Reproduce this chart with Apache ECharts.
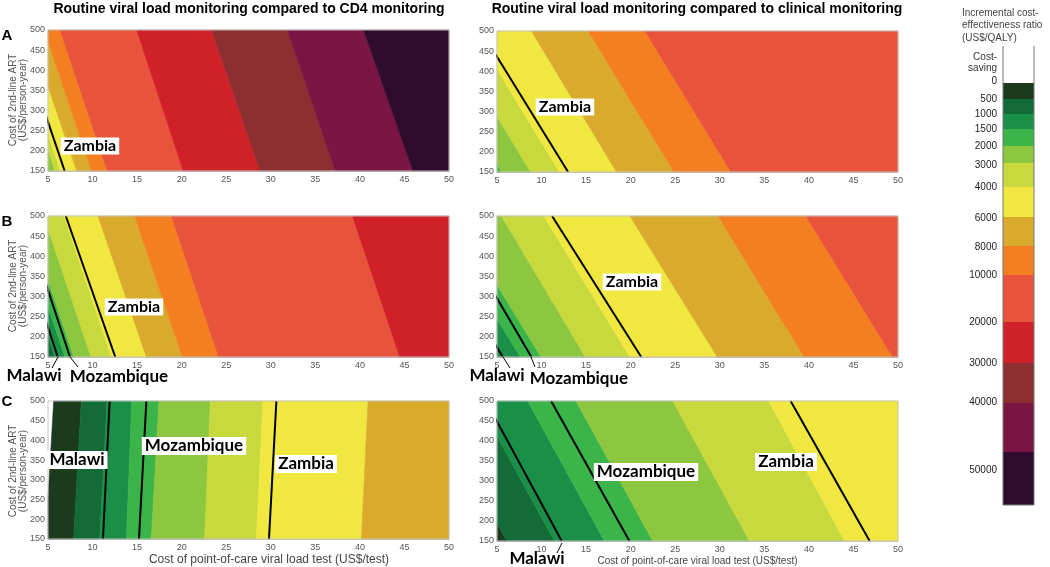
<!DOCTYPE html>
<html><head><meta charset="utf-8">
<script src="https://cdn.jsdelivr.net/npm/echarts@6/dist/echarts.min.js"></script>
<style>html,body{margin:0;padding:0;background:#fff}#c{width:1050px;height:567px}</style>
</head><body><div id="c"></div>
<script>
// ---------- data ----------
const xTicks = [5, 10, 15, 20, 25, 30, 35, 40, 45, 50];
const yTicks = [150, 200, 250, 300, 350, 400, 450, 500];
const columnTitles = ['Routine viral load monitoring compared to CD4 monitoring',
                      'Routine viral load monitoring compared to clinical monitoring'];
const rowLetters = ['A', 'B', 'C'];
const xAxisTitle = 'Cost of point-of-care viral load test (US$/test)';
const yAxisTitle = 'Cost of 2nd-line ART\n(US$/person-year)';
const legendTitle = 'Incremental cost-\neffectiveness ratio\n(US$/QALY)';
const legendBreaks = ['0','500','1000','1500','2000','3000','4000','6000','8000','10000','20000','30000','40000','50000'];
// ICER band (lower bound, -1 = cost-saving) -> colour
const icerBands = [-1, 0, 500, 1000, 1500, 2000, 3000, 4000, 6000, 8000, 10000, 20000, 30000, 40000, 50000];
const icerColors = ['#ffffff','#1c3a1e','#136b37','#1a8f47','#3bb54a','#8dc63f','#c8d93e','#f0e840','#d9aa2b','#f47f20','#e8533b','#d02129','#8d2e30','#7b1543','#2f0c2e'];

// Band boundaries: x (test cost) where boundary meets y=500 and y=150 (extrapolated)
// A: vs CD4
const aCd4Bands   = [2000, 3000, 4000, 6000, 8000, 10000, 20000, 30000, 40000, 50000];
const aCd4Edge500 = [0.45, 1.05, 2.87, 4.55, 6.35, 14.95, 23.36, 31.86, 40.4];
const aCd4Edge150 = [5.8, 6.4, 8.22, 9.9, 11.66, 20.18, 28.78, 37.21, 45.95];
const aCd4Lines   = [['Zambia', 1.5, 6.87]];
// A: vs clinical
const aClinBands   = [1500, 2000, 3000, 4000, 6000, 8000, 10000];
const aClinEdge500 = [-4.1, -0.82, 2.4, 8.86, 15.23, 21.6];
const aClinEdge150 = [5.5, 8.78, 12.0, 18.41, 24.86, 31.26];
const aClinLines   = [['Zambia', 3.22, 12.98]];
// B: vs CD4
const bCd4Bands   = [500, 1000, 1500, 2000, 3000, 4000, 6000, 8000, 10000, 20000];
const bCd4Edge500 = [0.46, 1.6, 2.59, 4.53, 6.8, 10.61, 14.73, 18.84, 39.16];
const bCd4Edge150 = [5.76, 6.9, 7.89, 9.83, 12.1, 16.04, 20.08, 24.15, 44.47];
const bCd4Lines   = [['Malawi', 0.9, 6.1], ['Mozambique', 2.27, 7.47], ['Zambia', 7.0, 12.55]];
// B: vs clinical
const bClinBands   = [1000, 1500, 2000, 3000, 4000, 6000, 8000, 10000];
const bClinEdge500 = [-2.08, 0.25, 5.5, 10.25, 19.91, 29.8, 39.66];
const bClinEdge150 = [7.62, 9.95, 14.93, 19.91, 29.73, 39.47, 49.4];
const bClinLines   = [['Malawi', -3.66, 5.64], ['Mozambique', -0.4, 8.86], ['Zambia', 11.18, 21.19]];
// C: vs CD4
const cCd4Bands   = [-1, 0, 500, 1000, 1500, 2000, 3000, 4000, 6000];
const cCd4Edge500 = [5.64, 8.74, 11.62, 14.4, 17.46, 23.22, 29.13, 40.92];
const cCd4Edge150 = [4.73, 7.88, 10.8, 13.8, 16.6, 22.58, 28.38, 40.17];
const cCd4Lines   = [['Malawi', 11.92, 11.17], ['Mozambique', 16.04, 15.21], ['Zambia', 30.63, 29.8]];
// C: vs clinical
const cClinBands   = [0, 500, 1000, 1500, 2000, 3000, 4000];
const cClinEdge500 = [-2.5, 2.84, 8.44, 13.87, 24.73, 35.48];
const cClinEdge150 = [6.1, 11.44, 17.05, 22.48, 33.34, 44.01];
const cClinLines   = [['Malawi', 3.76, 12.26], ['Mozambique', 11.07, 19.86], ['Zambia', 37.95, 46.82]];

// ---------- layout ----------
const X0 = xTicks[0], X1 = xTicks[xTicks.length - 1];
const Y0 = yTicks[0], Y1 = yTicks[yTicks.length - 1];
const panels = [
  {bands: aCd4Bands,  e500: aCd4Edge500,  e150: aCd4Edge150,  lines: aCd4Lines,  grid: {left: 48,  top: 30}},
  {bands: aClinBands, e500: aClinEdge500, e150: aClinEdge150, lines: aClinLines, grid: {left: 497, top: 31}},
  {bands: bCd4Bands,  e500: bCd4Edge500,  e150: bCd4Edge150,  lines: bCd4Lines,  grid: {left: 48,  top: 216}},
  {bands: bClinBands, e500: bClinEdge500, e150: bClinEdge150, lines: bClinLines, grid: {left: 497, top: 216}},
  {bands: cCd4Bands,  e500: cCd4Edge500,  e150: cCd4Edge150,  lines: cCd4Lines,  grid: {left: 48,  top: 401}},
  {bands: cClinBands, e500: cClinEdge500, e150: cClinEdge150, lines: cClinLines, grid: {left: 497, top: 401}}
];
const colorOf = b => icerColors[icerBands.indexOf(b)];

function clipHalf(poly, keep, X) {
  const out = [];
  for (let i = 0; i < poly.length; i++) {
    const a = poly[i], b = poly[(i + 1) % poly.length];
    const ka = keep(a), kb = keep(b);
    const cut = () => { const t = (X - a[0]) / (b[0] - a[0]); return [X, a[1] + t * (b[1] - a[1])]; };
    if (ka) { out.push(a); if (!kb) out.push(cut()); }
    else if (kb) out.push(cut());
  }
  return out;
}

const grids = [], xAxes = [], yAxes = [], series = [];
const tickLabelStyle = {fontSize: 9, color: '#555', fontFamily: 'Liberation Sans'};
panels.forEach((p, gi) => {
  const isLeft = gi % 2 === 0, isBottom = gi >= 4;
  grids.push({left: p.grid.left, top: p.grid.top, width: 401, height: 141, containLabel: false});
  xAxes.push({
    type: 'value', gridIndex: gi, min: X0, max: X1, interval: 5,
    axisLine: {show: true, lineStyle: {color: '#bbb'}}, axisTick: {show: false}, splitLine: {show: false},
    axisLabel: Object.assign({margin: 4}, tickLabelStyle),
    name: isBottom ? xAxisTitle : '', nameLocation: 'middle', nameGap: 15,
    nameTextStyle: {fontSize: isLeft ? 12 : 10, color: '#444', fontFamily: 'Liberation Sans',
                    padding: isLeft ? [0, 0, 0, 41] : 0}
  });
  yAxes.push({
    type: 'value', gridIndex: gi, min: Y0, max: Y1, interval: 50,
    axisLine: {show: true, lineStyle: {color: '#bbb'}}, axisTick: {show: false}, splitLine: {show: false},
    axisLabel: Object.assign({margin: 3}, tickLabelStyle)
  });
  // colour bands
  series.push({
    type: 'custom', xAxisIndex: gi, yAxisIndex: gi, z: 1, silent: true,
    data: p.bands.map((b, i) => [X0, Y0, i]),
    renderItem: (params, api) => {
      const i = params.dataIndex, n = p.bands.length;
      const L500 = i === 0 ? -1000 : p.e500[i - 1], L150 = i === 0 ? -1000 : p.e150[i - 1];
      const R500 = i === n - 1 ? 1000 : p.e500[i], R150 = i === n - 1 ? 1000 : p.e150[i];
      let poly = [[L500, Y1], [R500, Y1], [R150, Y0], [L150, Y0]];
      poly = clipHalf(poly, q => q[0] >= X0, X0);
      poly = clipHalf(poly, q => q[0] <= X1, X1);
      if (poly.length < 3) return null;
      const c = colorOf(p.bands[i]);
      return {type: 'polygon', shape: {points: poly.map(q => api.coord(q))},
              style: {fill: c, stroke: c, lineWidth: 0.6}};
    }
  });
  // plot frame
  series.push({
    type: 'custom', xAxisIndex: gi, yAxisIndex: gi, z: 6, silent: true, data: [[X0, Y0]],
    renderItem: (params, api) => {
      const a = api.coord([X0, Y1]), b = api.coord([X1, Y0]);
      return {type: 'rect', shape: {x: a[0], y: a[1], width: b[0] - a[0], height: b[1] - a[1]},
              style: {fill: 'none', stroke: '#c4c4c4', lineWidth: 1}};
    }
  });
  // country thresholds
  p.lines.forEach(l => {
    series.push({
      type: 'line', name: l[0], xAxisIndex: gi, yAxisIndex: gi, z: 5, clip: true, silent: true,
      symbol: 'none', data: [[l[1], Y1], [l[2], Y0]],
      lineStyle: {color: '#000', width: 2}
    });
  });
});

// ---------- annotations ----------
const graphic = [];
const T = (x, y, text, font, opts, extra) => graphic.push(Object.assign({type: 'text', x, y, z: 100, silent: true,
  style: Object.assign({text, font, fill: '#000', textAlign: 'center', textVerticalAlign: 'middle'}, opts || {})}, extra || {}));
T(249, 9, columnTitles[0], 'bold 14px "Liberation Sans"');
T(697, 9, columnTitles[1], 'bold 14px "Liberation Sans"');
T(7, 36, rowLetters[0], 'bold 15px "Liberation Sans"');
T(7, 222, rowLetters[1], 'bold 15px "Liberation Sans"');
T(7, 402, rowLetters[2], 'bold 15px "Liberation Sans"');
// y-axis titles (left column)
[100, 286, 471].forEach(cy => T(18, cy, yAxisTitle, '10px "Liberation Sans"',
  {fill: '#555', lineHeight: 10.5}, {rotation: Math.PI / 2}));

const boxed = {backgroundColor: '#fff', padding: [1, 3, 0, 3]};
const lab = 'bold 16px Lato', labBig = 'bold 17px Lato';
T(90, 146, 'Zambia', lab, boxed);
T(565, 107, 'Zambia', lab, boxed);
T(134, 307, 'Zambia', lab, boxed);
T(34, 376, 'Malawi', labBig);
T(119, 377, 'Mozambique', labBig);
T(632, 282, 'Zambia', lab, boxed);
T(497, 376, 'Malawi', labBig);
T(579, 379, 'Mozambique', labBig);
T(77, 460, 'Malawi', labBig, boxed);
T(194, 446, 'Mozambique', labBig, boxed);
T(306, 464, 'Zambia', labBig, boxed);
T(646, 472, 'Mozambique', labBig, boxed);
T(786, 462, 'Zambia', labBig, boxed);
T(537, 559, 'Malawi', labBig);
const L = (x1, y1, x2, y2) => graphic.push({type: 'line', silent: true, z: 100, shape: {x1, y1, x2, y2},
  style: {stroke: '#000', lineWidth: 1}});
L(58, 357, 52, 368);
L(70, 357, 78, 367);
L(503, 357, 510, 368);
L(531, 357, 535, 367);
L(562, 543, 557, 553);

// legend colour bar
const legX = 1003, legW = 31, legTop = 46;
const legEdges = [83, 99, 114, 129, 146, 163, 187, 217, 246, 275, 322, 363, 403, 452, 505];
const legLabelY = [81, 99, 114, 129, 146, 165, 187, 218, 247, 275, 322, 363, 402, 470];
legendTitle.split('\n').forEach((t, i) =>
  T(962, 13 + i * 12.5, t, '10px "Liberation Sans"', {textAlign: 'left', fill: '#444'}));
T(997, 57, 'Cost-', '10px "Liberation Sans"', {textAlign: 'right', fill: '#333'});
T(997, 68, 'saving', '10px "Liberation Sans"', {textAlign: 'right', fill: '#333'});
for (let i = 0; i < legEdges.length - 1; i++) {
  graphic.push({type: 'rect', silent: true, z: 50,
    shape: {x: legX, y: legEdges[i], width: legW, height: legEdges[i + 1] - legEdges[i]},
    style: {fill: icerColors[i + 1]}});
}
legendBreaks.forEach((t, i) => T(997, legLabelY[i], t, '10px "Liberation Sans"', {textAlign: 'right', fill: '#222'}));
graphic.push({type: 'polyline', silent: true, z: 60,
  shape: {points: [[legX, legTop], [legX, legEdges[legEdges.length - 1]], [legX + legW, legEdges[legEdges.length - 1]], [legX + legW, legTop]]},
  style: {stroke: '#777', lineWidth: 1, fill: 'none'}});

const chart = echarts.init(document.getElementById('c'), null, {renderer: 'canvas'});
chart.setOption({
  animation: false, backgroundColor: '#fff',
  grid: grids, xAxis: xAxes, yAxis: yAxes, series, graphic
});
</script></body></html>
